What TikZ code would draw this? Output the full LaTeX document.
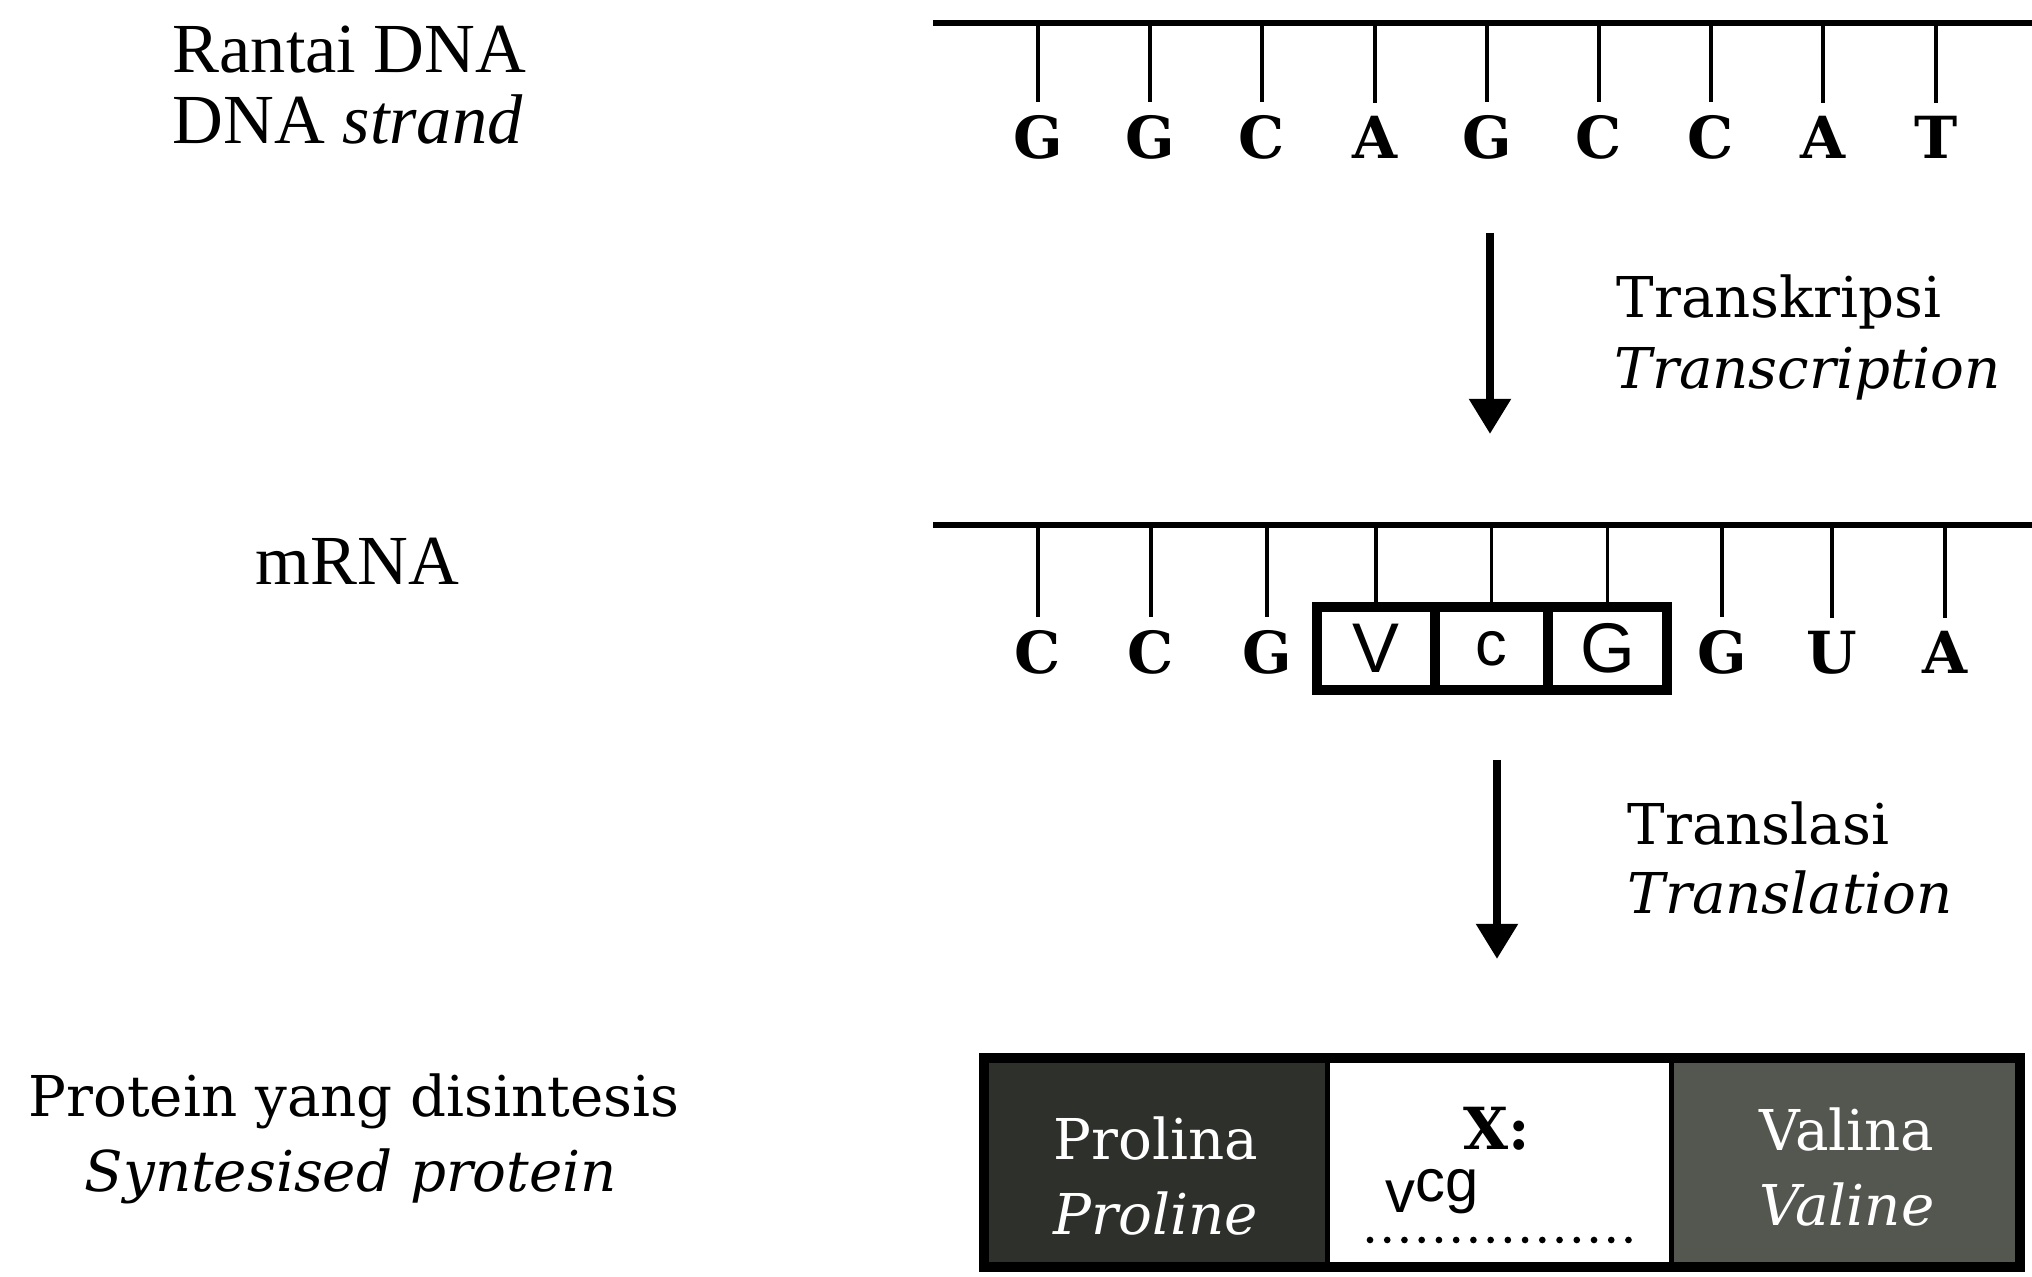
\documentclass[tikz,border=0pt]{standalone}
\usepackage{fontspec}
\setmainfont{Liberation Serif}
\newfontfamily\schfont{DejaVu Serif}
\newfontfamily\handfont{Liberation Sans}
\usetikzlibrary{arrows.meta}
\definecolor{cellDark}{RGB}{45,48,43}
\definecolor{cellGray}{RGB}{84,87,80}

\begin{document}
\begin{tikzpicture}[x=0.01cm,y=-0.01cm,
  strandline/.style={line width=1.6pt},
  basetick/.style={line width=0.9pt},
  nucleo/.style={font=\schfont\bfseries\fontsize{16.5}{19}\selectfont,
    inner sep=0pt, outer sep=4pt, anchor=base},
  codon/.style={draw, line width=2.85pt, inner sep=0pt, outer sep=0pt,
    font=\handfont\fontsize{20}{24}\selectfont},
  sidelabel/.style={font=\fontsize{20}{24}\selectfont, inner sep=0pt, anchor=base west},
  protlabel/.style={font=\schfont\fontsize{16}{19}\selectfont, inner sep=0pt, anchor=base west},
  proc/.style={font=\schfont\fontsize{16}{19}\selectfont, inner sep=0pt, anchor=base west},
  flow/.style={line width=2.4pt, -{Triangle[width=11.4pt,length=10pt]}},
  cell/.style={draw=black, line width=1.4pt, inner sep=0pt, outer sep=0pt,
    minimum height=2.09cm},
  celltxt/.style={font=\schfont\fontsize{16}{19}\selectfont, text=white,
    inner sep=0pt, anchor=base},
  frame/.style={line width=2.85pt},
  dots/.style={line width=1.9pt, line cap=round, dash pattern=on 0pt off 4.9pt}
]
\useasboundingbox (0,0) rectangle (2032,1277);

% ---- left-hand labels ----
\node[sidelabel] (dnaA) at (172,73) {Rantai DNA};
\node[sidelabel] (dnaB) at (172,144) {DNA \textit{strand}};
\node[sidelabel] (rnaA) at (255,585) {mRNA};
\node[protlabel] (protA) at (28,1117) {Protein yang disintesis};
\node[protlabel] (protB) at (84,1192) {\itshape Syntesised protein};

% ---- DNA strand ----
\coordinate (dnaL) at (933,23);
\coordinate (dnaR) at (2032,23);
\draw[strandline] (dnaL) -- (dnaR);
\foreach \x/\b [count=\i] in {1038/G,1150/G,1262/C,1375/A,1487/G,1599/C,1711/C,1823/A,1936/T}{
  \node[nucleo] (d\i) at (\x,159) {\b};
  \draw[basetick] (d\i.north |- dnaL) -- (d\i.north);
}

% ---- transcription ----
\coordinate (trA) at (1490,233);
\coordinate (trB) at (1490,434);
\draw[flow] (trA) -- (trB);
\node[proc] (transA) at (1616,318) {Transkripsi};
\node[proc] (transB) at (1614,389) {\itshape Transcription};

% ---- mRNA strand ----
\coordinate (rnaL) at (933,525);
\coordinate (rnaR) at (2032,525);
\draw[strandline] (rnaL) -- (rnaR);
\foreach \x/\b [count=\i] in {1038/C,1151/C,1267/G,1722/G,1832/U,1945/A}{
  \node[nucleo] (r\i) at (\x,674) {\b};
  \draw[basetick] (r\i.north |- rnaL) -- (r\i.north);
}
\node[codon, minimum width=1.18cm, minimum height=0.83cm] (c1) at (1376,648.5) {V};
\node[codon, minimum width=1.13cm, minimum height=0.83cm] (c2) at (1491.5,648.5) {\fontsize{18}{20}\selectfont c};
\node[codon, minimum width=1.19cm, minimum height=0.83cm] (c3) at (1607.5,648.5) {G};
\foreach \i in {1,2,3}{
  \draw[basetick] (c\i.north |- rnaL) -- (c\i.north);
}

% ---- translation ----
\coordinate (tlA) at (1497,760);
\coordinate (tlB) at (1497,959);
\draw[flow] (tlA) -- (tlB);
\node[proc] (tranlA) at (1627,845) {Translasi};
\node[proc] (tranlB) at (1627,914) {\itshape Translation};

% ---- synthesised protein ----
\node[cell, fill=cellDark, minimum width=3.44cm] (pro) at (1156,1162.5) {};
\node[cell, fill=white, minimum width=3.44cm] (unk) at (1500,1162.5) {};
\node[cell, fill=cellGray, minimum width=3.48cm] (val) at (1846,1162.5) {};
\draw[frame] (pro.north west) rectangle (val.south east);

\node[celltxt] (proA) at (1156,1160) {Prolina};
\node[celltxt] (proB) at (1156,1235) {\itshape Proline};
\node[celltxt] (valA) at (1847,1151) {Valina};
\node[celltxt] (valB) at (1847,1226) {\itshape Valine};
\node[celltxt, text=black, font=\schfont\bfseries\fontsize{16.5}{19}\selectfont] (unkA) at (1497,1150) {X:};
\node[inner sep=0pt, font=\handfont\fontsize{17}{19}\selectfont] (unkB) at (1432,1192) {v\raisebox{3pt}{cg}};
\coordinate (dotL) at (1370,1240);
\coordinate (dotR) at (1633,1240);
\draw[dots] (dotL) -- (dotR);
\end{tikzpicture}
\end{document}
